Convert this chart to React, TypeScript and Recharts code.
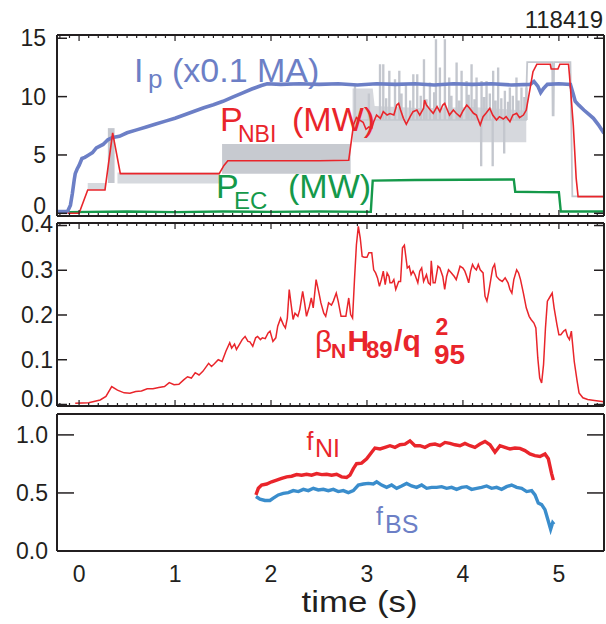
import React from 'react';
import { ComposedChart, Line, Area, XAxis, YAxis } from 'recharts';

type Pt = [number, number];
type Band = [number, number, number];

const FONT = '"Liberation Sans", Arial, Helvetica, sans-serif';
const INK = '#231f20';
const IP_BLUE = '#6c7fc6';
const RED = '#e9252b';
const GREEN = '#15994a';
const GRAY = '#c4c7ce';
const GRAY_LIGHT = '#d6d9de';
const BS_BLUE = '#3a8dcc';

const X_DOMAIN: [number, number] = [-0.23, 5.47];
const X_LABELS = [0, 1, 2, 3, 4, 5];
const X_MINOR = Array.from({ length: 57 }, (_, i) => (i - 2) / 10);

const TOP_Y_DOMAIN: [number, number] = [-0.23, 15.28];
const TOP_Y_TICKS = [0, 5, 10, 15];
const MID_Y_DOMAIN: [number, number] = [-0.0034, 0.4056];
const MID_Y_TICKS = [0, 0.1, 0.2, 0.3, 0.4];
const BOT_Y_DOMAIN: [number, number] = [0, 1.18];
const BOT_Y_TICKS = [0, 0.5, 1.0];
const BOT_Y_MARKS = [0.5, 1.0];

// ---- top panel: [time (s), value] ----
const IP: Pt[] = [
  [-0.23, 0.15], [-0.12, 0.15], [-0.09, 0.7], [-0.07, 1.7], [-0.05, 2.9], [-0.04, 3.4], [-0.02, 3.8],
  [0.0, 4.1], [0.03, 4.7], [0.06, 4.8], [0.1, 5.0], [0.14, 5.2], [0.18, 5.6], [0.25, 5.9], [0.3, 6.3],
  [0.35, 6.5], [0.42, 6.6], [0.5, 6.9], [0.6, 7.15], [0.7, 7.4], [0.8, 7.65], [0.9, 7.9], [1.0, 8.15],
  [1.1, 8.45], [1.2, 8.75], [1.3, 9.05], [1.4, 9.3], [1.5, 9.6], [1.6, 9.95], [1.7, 10.3], [1.8, 10.65],
  [1.9, 10.95], [1.96, 11.1], [2.1, 11.05], [2.3, 11.1], [2.5, 11.05], [2.7, 11.1], [2.9, 11.0],
  [3.1, 11.1], [3.3, 11.05], [3.5, 11.1], [3.7, 11.0], [3.9, 11.1], [4.1, 11.05], [4.3, 11.1],
  [4.5, 11.0], [4.7, 11.05], [4.74, 11.3], [4.78, 10.9], [4.81, 10.35], [4.84, 10.7], [4.88, 11.05],
  [5.0, 11.1], [5.12, 11.05], [5.15, 10.2], [5.17, 9.6], [5.21, 9.25], [5.26, 8.85], [5.31, 8.5],
  [5.36, 8.14], [5.41, 7.6], [5.47, 6.85],
];

const PNBI: Pt[] = [
  [-0.12, 0.0], [0.0, 0.0], [0.09, 2.0], [0.27, 2.0], [0.35, 6.9], [0.43, 3.4], [0.8, 3.4], [1.2, 3.4],
  [1.46, 3.4], [1.51, 4.1], [1.55, 4.5], [2.0, 4.5], [2.5, 4.5], [2.81, 4.55], [2.86, 7.6], [2.89, 8.2],
  [2.92, 8.0], [2.96, 7.8], [2.99, 7.2], [3.02, 7.4], [3.05, 7.3], [3.07, 7.85], [3.1, 8.42],
  [3.14, 8.14], [3.17, 8.71], [3.21, 8.42], [3.24, 8.55], [3.28, 8.42], [3.31, 9.28], [3.33, 9.42],
  [3.35, 8.85], [3.38, 8.14], [3.41, 7.63], [3.45, 8.28], [3.48, 8.71], [3.52, 8.85], [3.55, 8.42],
  [3.59, 9.0], [3.6, 9.71], [3.62, 9.28], [3.66, 8.85], [3.69, 8.57], [3.73, 9.14], [3.76, 8.71],
  [3.79, 9.28], [3.81, 9.42], [3.83, 9.0], [3.86, 8.42], [3.9, 8.85], [3.93, 8.57], [3.97, 8.28],
  [4.0, 8.77], [4.04, 9.28], [4.07, 9.0], [4.11, 8.57], [4.14, 8.42], [4.18, 7.57], [4.21, 8.28],
  [4.24, 8.57], [4.28, 9.0], [4.31, 8.42], [4.35, 8.0], [4.38, 8.28], [4.42, 8.08], [4.45, 8.28],
  [4.49, 7.85], [4.52, 8.42], [4.56, 8.57], [4.59, 8.2], [4.63, 8.42], [4.66, 8.85], [4.7, 10.71],
  [4.73, 12.14], [4.77, 12.77], [4.91, 12.77], [4.92, 12.37], [4.99, 12.37], [5.01, 12.77],
  [5.1, 12.77], [5.11, 11.85], [5.15, 7.57], [5.18, 3.0], [5.2, 1.43], [5.47, 1.43],
];

const PEC: Pt[] = [
  [-0.11, 0.1], [0.5, 0.15], [1.0, 0.1], [1.5, 0.15], [2.0, 0.12], [2.5, 0.15], [3.04, 0.12],
  [3.06, 2.8], [3.5, 2.85], [4.0, 2.88], [4.53, 2.9], [4.545, 1.85], [4.8, 1.82], [5.0, 1.8],
  [5.02, 0.15], [5.47, 0.15],
];

// raw (modulated) beam power, shown grey: dense parts as [t, low, high]
const GRAY_EARLY: Band[] = [[0.09, 2.0, 2.6], [0.28, 2.0, 2.6]];
const GRAY_PEAK: Band[] = [[0.3, 2.6, 7.3], [0.37, 2.6, 7.3]];
const GRAY_COMB: Band[] = [[0.4, 2.55, 3.5], [1.47, 2.55, 3.5]];
const GRAY_BLOCK: Band[] = [[1.49, 3.4, 5.95], [2.83, 3.4, 5.95]];
const GRAY_UPPER: Band[] = [
  [2.85, 6.1, 10.7], [3.06, 6.1, 10.7], [3.08, 6.1, 9.2], [3.6, 6.1, 9.0], [4.1, 6.1, 9.1], [4.66, 6.1, 8.8],
];
const GRAY_SPIKES: Pt[] = [
  [2.875, 10.85], [3.02, 10.2], [3.136, 12.71], [3.17, 12.71], [3.2, 9.8], [3.233, 12.14], [3.292, 11.43],
  [3.337, 12.14], [3.36, 10.2], [3.406, 11.0], [3.45, 9.6], [3.483, 11.85], [3.524, 11.85], [3.56, 10.0],
  [3.594, 13.14], [3.62, 9.7], [3.656, 11.14], [3.7, 10.3], [3.719, 14.85], [3.76, 12.42], [3.812, 14.85],
  [3.857, 11.57], [3.88, 10.0], [3.934, 12.85], [3.96, 9.6], [3.986, 12.14], [4.038, 11.28], [4.06, 10.1],
  [4.09, 12.71], [4.12, 9.7], [4.142, 11.57], [4.19, 4.1], [4.194, 11.28], [4.22, 9.9], [4.246, 11.28],
  [4.28, 10.2], [4.31, 4.1], [4.315, 12.14], [4.34, 9.6], [4.367, 12.42], [4.4, 9.8], [4.43, 5.2],
  [4.437, 10.43], [4.47, 9.5], [4.489, 10.71], [4.52, 10.0], [4.558, 11.57], [4.58, 9.6], [4.61, 10.71],
  [4.64, 9.9], [4.662, 10.71],
];
const GRAY_TOP: Pt[] = [
  [4.655, 8.8], [4.67, 12.95], [4.93, 12.95], [4.935, 8.4], [4.945, 8.4], [4.95, 12.95], [5.12, 12.95],
  [5.14, 1.45], [5.47, 1.45],
];

// ---- middle panel ----
const BETA: Pt[] = [
  [-0.04, 0.003], [0.1, 0.004], [0.22, 0.01], [0.28, 0.018], [0.34, 0.04], [0.4, 0.032], [0.47, 0.026],
  [0.53, 0.025], [0.59, 0.029], [0.65, 0.03], [0.71, 0.035], [0.77, 0.035], [0.83, 0.038], [0.89, 0.04],
  [0.94, 0.049], [0.99, 0.044], [1.04, 0.045], [1.09, 0.055], [1.13, 0.062], [1.17, 0.059], [1.21, 0.071],
  [1.25, 0.066], [1.29, 0.074], [1.35, 0.092], [1.38, 0.085], [1.41, 0.091], [1.45, 0.1], [1.49, 0.096],
  [1.53, 0.119], [1.57, 0.138], [1.59, 0.126], [1.62, 0.135], [1.64, 0.123], [1.67, 0.134], [1.7, 0.145],
  [1.73, 0.152], [1.76, 0.141], [1.78, 0.14], [1.81, 0.13], [1.84, 0.149], [1.86, 0.152], [1.89, 0.145],
  [1.91, 0.149], [1.94, 0.147], [1.97, 0.16], [1.99, 0.164], [2.02, 0.141], [2.05, 0.149], [2.07, 0.175],
  [2.1, 0.193], [2.13, 0.178], [2.15, 0.171], [2.17, 0.193], [2.19, 0.257], [2.21, 0.223], [2.23, 0.19],
  [2.25, 0.204], [2.28, 0.197], [2.3, 0.212], [2.33, 0.253], [2.35, 0.227], [2.37, 0.197], [2.4, 0.219],
  [2.42, 0.238], [2.44, 0.216], [2.47, 0.279], [2.5, 0.249], [2.52, 0.227], [2.55, 0.204], [2.57, 0.197],
  [2.6, 0.227], [2.63, 0.222], [2.65, 0.231], [2.68, 0.249], [2.7, 0.231], [2.73, 0.197], [2.75, 0.197],
  [2.78, 0.197], [2.81, 0.238], [2.83, 0.201], [2.85, 0.193], [2.87, 0.279], [2.89, 0.357], [2.91, 0.398],
  [2.93, 0.372], [2.95, 0.331], [2.97, 0.329], [3.0, 0.329], [3.02, 0.339], [3.05, 0.339], [3.07, 0.301],
  [3.09, 0.294], [3.11, 0.283], [3.13, 0.264], [3.15, 0.279], [3.17, 0.298], [3.19, 0.268], [3.21, 0.294],
  [3.23, 0.286], [3.24, 0.272], [3.26, 0.272], [3.28, 0.279], [3.3, 0.257], [3.33, 0.275], [3.35, 0.275],
  [3.37, 0.35], [3.39, 0.356], [3.42, 0.305], [3.44, 0.309], [3.46, 0.29], [3.48, 0.298], [3.5, 0.29],
  [3.53, 0.272], [3.55, 0.298], [3.57, 0.305], [3.59, 0.275], [3.62, 0.29], [3.64, 0.272], [3.66, 0.268],
  [3.67, 0.321], [3.69, 0.272], [3.71, 0.272], [3.74, 0.309], [3.76, 0.305], [3.79, 0.286], [3.81, 0.257],
  [3.83, 0.286], [3.85, 0.301], [3.88, 0.294], [3.91, 0.286], [3.93, 0.279], [3.95, 0.294], [3.97, 0.309],
  [4.0, 0.305], [4.02, 0.298], [4.04, 0.286], [4.06, 0.272], [4.08, 0.298], [4.1, 0.313], [4.12, 0.305],
  [4.14, 0.301], [4.16, 0.313], [4.18, 0.301], [4.21, 0.294], [4.23, 0.242], [4.25, 0.231], [4.27, 0.253],
  [4.29, 0.279], [4.31, 0.305], [4.33, 0.313], [4.35, 0.286], [4.38, 0.279], [4.41, 0.275], [4.44, 0.283],
  [4.47, 0.272], [4.49, 0.257], [4.51, 0.249], [4.53, 0.279], [4.56, 0.301], [4.58, 0.294], [4.6, 0.279],
  [4.63, 0.249], [4.66, 0.216], [4.69, 0.197], [4.71, 0.19], [4.74, 0.182], [4.76, 0.171], [4.78, 0.104],
  [4.8, 0.059], [4.82, 0.048], [4.84, 0.089], [4.86, 0.171], [4.88, 0.231], [4.9, 0.238], [4.93, 0.249],
  [4.95, 0.216], [4.98, 0.178], [5.0, 0.156], [5.02, 0.156], [5.05, 0.164], [5.07, 0.167], [5.09, 0.152],
  [5.11, 0.145], [5.13, 0.164], [5.14, 0.141], [5.16, 0.096], [5.19, 0.052], [5.21, 0.026], [5.25, 0.015],
  [5.3, 0.011], [5.37, 0.009], [5.47, 0.006],
];

// ---- bottom panel ----
const FNI: Pt[] = [
  [1.843, 0.483], [1.868, 0.54], [1.902, 0.568], [1.955, 0.577], [2.007, 0.596], [2.059, 0.61],
  [2.111, 0.625], [2.163, 0.639], [2.215, 0.644], [2.267, 0.658], [2.319, 0.653], [2.371, 0.661],
  [2.423, 0.653], [2.476, 0.667], [2.528, 0.658], [2.58, 0.661], [2.632, 0.653], [2.684, 0.661],
  [2.736, 0.639], [2.788, 0.633], [2.823, 0.653], [2.858, 0.709], [2.892, 0.752], [2.944, 0.757],
  [2.997, 0.794], [3.049, 0.851], [3.083, 0.887], [3.136, 0.879], [3.188, 0.893], [3.24, 0.907],
  [3.292, 0.893], [3.344, 0.915], [3.396, 0.921], [3.448, 0.949], [3.5, 0.907], [3.552, 0.907],
  [3.604, 0.893], [3.657, 0.915], [3.709, 0.921], [3.761, 0.907], [3.813, 0.935], [3.865, 0.927],
  [3.917, 0.915], [3.969, 0.907], [4.021, 0.927], [4.073, 0.907], [4.125, 0.893], [4.178, 0.921],
  [4.23, 0.944], [4.282, 0.915], [4.334, 0.851], [4.386, 0.907], [4.438, 0.893], [4.49, 0.879],
  [4.542, 0.887], [4.594, 0.884], [4.646, 0.865], [4.698, 0.836], [4.75, 0.822], [4.803, 0.814],
  [4.855, 0.836], [4.89, 0.794], [4.924, 0.667], [4.942, 0.61],
];
const FBS: Pt[] = [
  [1.843, 0.469], [1.885, 0.447], [1.937, 0.435], [1.989, 0.435], [2.024, 0.455], [2.076, 0.483],
  [2.128, 0.497], [2.18, 0.503], [2.232, 0.52], [2.285, 0.512], [2.337, 0.531], [2.389, 0.52],
  [2.441, 0.54], [2.493, 0.526], [2.545, 0.531], [2.597, 0.52], [2.649, 0.531], [2.701, 0.512],
  [2.753, 0.52], [2.806, 0.503], [2.858, 0.52], [2.91, 0.568], [2.962, 0.577], [3.014, 0.582],
  [3.066, 0.577], [3.101, 0.596], [3.153, 0.568], [3.205, 0.548], [3.257, 0.568], [3.309, 0.54],
  [3.361, 0.56], [3.413, 0.582], [3.465, 0.56], [3.518, 0.548], [3.57, 0.568], [3.622, 0.54],
  [3.674, 0.548], [3.726, 0.548], [3.778, 0.554], [3.83, 0.54], [3.882, 0.548], [3.934, 0.531],
  [3.986, 0.548], [4.039, 0.554], [4.091, 0.531], [4.143, 0.54], [4.195, 0.548], [4.247, 0.56],
  [4.299, 0.54], [4.351, 0.548], [4.403, 0.531], [4.455, 0.554], [4.507, 0.568], [4.56, 0.548],
  [4.612, 0.54], [4.664, 0.512], [4.716, 0.52], [4.751, 0.483], [4.785, 0.413], [4.82, 0.399],
  [4.855, 0.356], [4.89, 0.257], [4.914, 0.187], [4.935, 0.243], [4.949, 0.229],
];

const toLine = (rows: Pt[]) => rows.map(([t, v]) => ({ t, v }));
const toBand = (rows: Band[]) => rows.map(([t, lo, hi]) => ({ t, r: [lo, hi] }));
const toSpikes = (rows: Pt[], base: number) =>
  rows.flatMap(([t, v]) => [
    { t: t - 0.004, v: base },
    { t: t - 0.004, v },
    { t: t + 0.004, v },
    { t: t + 0.004, v: base },
  ]);

const frame = { stroke: INK, strokeWidth: 2 };

// minor/major ticks pointing into the plot from the top or bottom edge
const edgeTick = (dir: number) => (p: any) => {
  const v = p.payload.value;
  const len = Math.abs(v - Math.round(v)) < 1e-6 ? 6 : 3;
  return <line x1={p.x} x2={p.x} y1={p.y} y2={p.y + dir * len} stroke={INK} strokeWidth={1.2} />;
};

const leftTick =
  (gap: number, len: number, marks: number[], digits: number, shift: Record<string, number> = {}) =>
  (p: any) => {
    const v = p.payload.value;
    const x0 = p.x + gap;
    return (
      <g>
        {marks.includes(v) && <line x1={x0} x2={x0 + len} y1={p.y} y2={p.y} stroke={INK} strokeWidth={1.5} />}
        <text x={p.x} y={p.y + 8 + (shift[String(v)] ?? 0)} textAnchor="end" fontSize={23} fontFamily={FONT} fill={INK}>
          {v.toFixed(digits)}
        </text>
      </g>
    );
  };

const rightTick = (len: number, marks: number[]) => (p: any) =>
  marks.includes(p.payload.value) ? (
    <line x1={p.x} x2={p.x - len} y1={p.y} y2={p.y} stroke={INK} strokeWidth={1.5} />
  ) : (
    <g />
  );

const bottomLabel = (p: any) => (
  <text x={p.x} y={p.y + 31} textAnchor="middle" fontSize={23} fontFamily={FONT} fill={INK}>
    {p.payload.value}
  </text>
);

// axes are 1px deep: recharts skips drawing an axis whose height/width is 0
const xCommon = {
  dataKey: 't',
  type: 'number' as const,
  domain: X_DOMAIN,
  allowDataOverflow: true,
  interval: 0 as const,
  height: 1,
  tickSize: 0,
  tickMargin: 0,
  tickLine: false,
  axisLine: frame,
};

const rightAxis = (domain: [number, number], ticks: number[], tick: any) => (
  <YAxis yAxisId="r" orientation="right" type="number" domain={domain} allowDataOverflow ticks={ticks}
    interval={0} width={1} tickSize={0} tickMargin={0} tickLine={false} axisLine={frame} tick={tick} />
);

const TopPanel = () => (
  <ComposedChart width={606} height={250} margin={{ top: 34, right: 1, bottom: 33, left: 0 }}>
    <XAxis xAxisId="b" {...xCommon} ticks={X_MINOR} tick={edgeTick(-1)} />
    <XAxis xAxisId="top" orientation="top" {...xCommon} ticks={X_MINOR} tick={edgeTick(1)} />
    <YAxis yAxisId="l" type="number" domain={TOP_Y_DOMAIN} allowDataOverflow ticks={TOP_Y_TICKS} interval={0}
      width={57} tickSize={0} tickMargin={11} tickLine={false} axisLine={frame}
      tick={leftTick(11, 10, TOP_Y_TICKS, 0, { '0': -7 })} />
    {rightAxis(TOP_Y_DOMAIN, TOP_Y_TICKS, rightTick(10, TOP_Y_TICKS))}
    <Area xAxisId="b" yAxisId="l" data={toBand(GRAY_EARLY)} dataKey="r" type="linear" stroke="none" fill={GRAY_LIGHT} fillOpacity={1} isAnimationActive={false} />
    <Area xAxisId="b" yAxisId="l" data={toBand(GRAY_PEAK)} dataKey="r" type="linear" stroke="none" fill={GRAY} fillOpacity={1} isAnimationActive={false} />
    <Area xAxisId="b" yAxisId="l" data={toBand(GRAY_COMB)} dataKey="r" type="linear" stroke="none" fill={GRAY_LIGHT} fillOpacity={1} isAnimationActive={false} />
    <Area xAxisId="b" yAxisId="l" data={toBand(GRAY_BLOCK)} dataKey="r" type="linear" stroke="none" fill={GRAY} fillOpacity={0.95} isAnimationActive={false} />
    <Area xAxisId="b" yAxisId="l" data={toBand(GRAY_UPPER)} dataKey="r" type="linear" stroke="none" fill={GRAY} fillOpacity={0.7} isAnimationActive={false} />
    <Line xAxisId="b" yAxisId="l" data={toSpikes(GRAY_SPIKES, 8)} dataKey="v" type="linear" stroke={GRAY} strokeWidth={1.6} dot={false} isAnimationActive={false} />
    <Line xAxisId="b" yAxisId="l" data={toLine(GRAY_TOP)} dataKey="v" type="linear" stroke={GRAY} strokeWidth={1.8} dot={false} isAnimationActive={false} />
    <Line xAxisId="b" yAxisId="l" data={toLine(PEC)} dataKey="v" type="linear" stroke={GREEN} strokeWidth={2.4} dot={false} isAnimationActive={false} />
    <Line xAxisId="b" yAxisId="l" data={toLine(IP)} dataKey="v" type="linear" stroke={IP_BLUE} strokeWidth={3.6} dot={false} isAnimationActive={false} />
    <Line xAxisId="b" yAxisId="l" data={toLine(PNBI)} dataKey="v" type="linear" stroke={RED} strokeWidth={1.6} dot={false} isAnimationActive={false} />
  </ComposedChart>
);

const MiddlePanel = () => (
  <ComposedChart width={606} height={230} margin={{ top: 22, right: 1, bottom: 23, left: 0 }}>
    <XAxis xAxisId="b" {...xCommon} ticks={X_MINOR} tick={edgeTick(-1)} />
    <XAxis xAxisId="top" orientation="top" {...xCommon} ticks={X_MINOR} tick={edgeTick(1)} />
    <YAxis yAxisId="l" type="number" domain={MID_Y_DOMAIN} allowDataOverflow ticks={MID_Y_TICKS} interval={0}
      width={57} tickSize={0} tickMargin={4} tickLine={false} axisLine={frame}
      tick={leftTick(4, 10, MID_Y_TICKS, 1, { '0': -5, '0.4': -2 })} />
    {rightAxis(MID_Y_DOMAIN, MID_Y_TICKS, rightTick(10, MID_Y_TICKS))}
    <Line xAxisId="b" yAxisId="l" data={toLine(BETA)} dataKey="v" type="linear" stroke={RED} strokeWidth={1.5} dot={false} isAnimationActive={false} />
  </ComposedChart>
);

const BottomPanel = () => (
  <ComposedChart width={606} height={234} margin={{ top: 23, right: 1, bottom: 33, left: 0 }}>
    <XAxis xAxisId="b" {...xCommon} height={40} ticks={X_LABELS} tick={bottomLabel} />
    <XAxis xAxisId="top" orientation="top" {...xCommon} ticks={X_LABELS} tick={() => <g />} />
    <YAxis yAxisId="l" type="number" domain={BOT_Y_DOMAIN} allowDataOverflow ticks={BOT_Y_TICKS} interval={0}
      width={57} tickSize={0} tickMargin={9} tickLine={false} axisLine={frame}
      tick={leftTick(9, 17, BOT_Y_MARKS, 1)} />
    {rightAxis(BOT_Y_DOMAIN, BOT_Y_TICKS, rightTick(17, BOT_Y_MARKS))}
    <Line xAxisId="b" yAxisId="l" data={toLine(FBS)} dataKey="v" type="linear" stroke={BS_BLUE} strokeWidth={3.4} dot={false} isAnimationActive={false} />
    <Line xAxisId="b" yAxisId="l" data={toLine(FNI)} dataKey="v" type="linear" stroke={RED} strokeWidth={3.4} dot={false} isAnimationActive={false} />
  </ComposedChart>
);

const Annotations = () => (
  <svg width={606} height={624} style={{ position: 'absolute', left: 0, top: 0, pointerEvents: 'none' }} fontFamily={FONT}>
    <text x={603} y={28} textAnchor="end" fontSize={24} fill={INK}>118419</text>
    <text fill={IP_BLUE} fontSize={34}>
      <tspan x={134} y={82}>I</tspan>
      <tspan x={148} y={88} fontSize={26}>p</tspan>
      <tspan x={172} y={82}>(x0.1 MA)</tspan>
    </text>
    <text fill={RED} fontSize={34}>
      <tspan x={220} y={131}>P</tspan>
      <tspan x={238} y={141.5} fontSize={23}>NBI</tspan>
      <tspan x={292} y={131}>(MW)</tspan>
    </text>
    <text fill={GREEN} fontSize={34}>
      <tspan x={216} y={198}>P</tspan>
      <tspan x={234} y={208.5} fontSize={24}>EC</tspan>
      <tspan x={288} y={198}>(MW)</tspan>
    </text>
    <text fill={RED} fontWeight="bold">
      <tspan x={315} y={352} fontSize={30} fontWeight="normal">β</tspan>
      <tspan x={331} y={358} fontSize={21}>N</tspan>
      <tspan x={347.5} y={351.3} fontSize={30}>H</tspan>
      <tspan x={366} y={358} fontSize={24}>89</tspan>
      <tspan x={394} y={351.3} fontSize={30}>/</tspan>
      <tspan x={402.5} y={351.3} fontSize={30}>q</tspan>
      <tspan x={435.5} y={334.7} fontSize={23}>2</tspan>
      <tspan x={434} y={364} fontSize={28}>95</tspan>
    </text>
    <text fill={RED} fontSize={25}>
      <tspan x={306.5} y={450}>f</tspan>
      <tspan x={315} y={456.7}>NI</tspan>
    </text>
    <text fill={IP_BLUE} fontSize={25}>
      <tspan x={376} y={525}>f</tspan>
      <tspan x={385} y={533}>BS</tspan>
    </text>
    <text x={359.5} y={612} textAnchor="middle" fontSize={29} fill={INK} textLength={116} lengthAdjust="spacingAndGlyphs">
      time (s)
    </text>
  </svg>
);

export default function App() {
  return (
    <div style={{ position: 'absolute', left: 0, top: 0, width: 606, height: 624, background: '#fff', overflow: 'hidden', fontFamily: FONT }}>
      <div style={{ position: 'absolute', left: 0, top: 0 }}>
        <TopPanel />
      </div>
      <div style={{ position: 'absolute', left: 0, top: 200 }}>
        <MiddlePanel />
      </div>
      <div style={{ position: 'absolute', left: 0, top: 390 }}>
        <BottomPanel />
      </div>
      <Annotations />
    </div>
  );
}
